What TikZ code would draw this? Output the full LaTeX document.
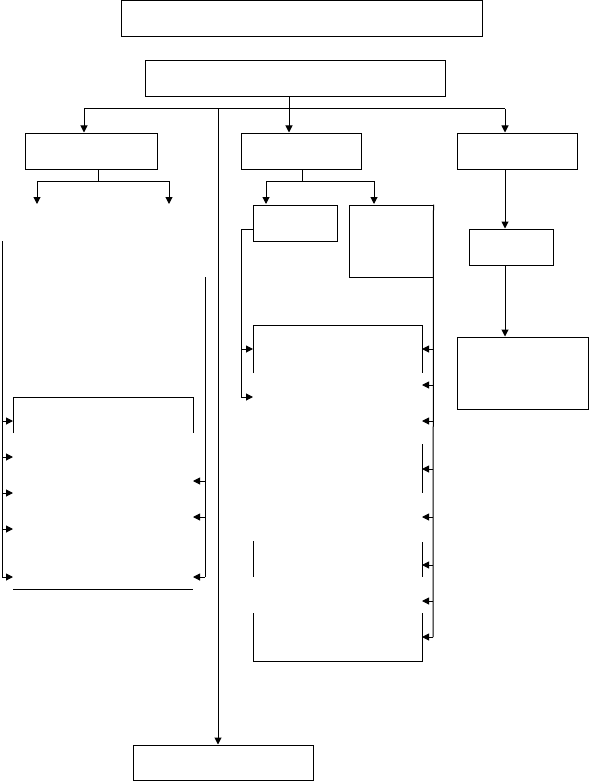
\documentclass[tikz,border=0pt]{standalone}
\usetikzlibrary{arrows.meta, positioning, calc}

\begin{document}
\begin{tikzpicture}[
  x=1pt, y=-1pt,
  box/.style 2 args={draw, line width=1pt, minimum width=#1, minimum height=#2, inner sep=0pt},
  line/.style={line width=1pt},
  arrow/.style={line width=1pt, -{Triangle[length=7pt, width=7pt]}}
]
  \useasboundingbox (0,0) rectangle (589,781);

  \node[box={361pt}{36pt}] (top) at (301.5,19) {};
  \node[box={300pt}{36pt}] (main) at (295,79) {};
  \node[box={132pt}{36pt}] (left) at (91,151) {};
  \node[box={120pt}{36pt}] (mid) at (301,151) {};
  \node[box={120pt}{36pt}] (right) at (517,151) {};
  \node[box={84pt}{36pt}] (midA) at (295,223) {};
  \node[box={84pt}{72pt}] (midB) at (391,241) {};
  \node[box={84pt}{36pt}] (rightA) at (511,247) {};
  \node[box={131pt}{72pt}] (rightB) at (522.5,373) {};
  \node[box={180pt}{35pt}] (bottom) at (223,762.5) {};

  \coordinate (busL) at (84,109);
  \coordinate (bus) at (289,109);
  \coordinate (busM) at (218,109);
  \coordinate (busR) at (505,109);
  \coordinate (leftL) at (37,204);
  \coordinate (leftR) at (169,204);

  \draw[line] (bus |- main.south) -- (bus);
  \draw[line] (busL) -- (busR);
  \draw[arrow] (busL) -- (busL |- left.north);
  \draw[arrow] (bus) -- (bus |- mid.north);
  \draw[arrow] (busR) -- (busR |- right.north);
  \draw[arrow] (busM) -- (busM |- bottom.north);

  \draw[line] (98,169) -- (98,181);
  \draw[arrow] (98,181) -| (leftL);
  \draw[arrow] (98,181) -| (leftR);
  \draw[line] (302,169) -- (302,181);
  \draw[arrow] (302,181) -| (266,204);
  \draw[arrow] (302,181) -| (374,204);
  \draw[arrow] (busR |- right.south) -- (busR |- rightA.north);
  \draw[arrow] (busR |- rightA.south) -- (busR |- rightB.north);

  % left frame
  \draw[line] (13,433) -- (13,397) -- (193,397) -- (193,433);
  \draw[line] (13,589) -- (193,589);
  \draw[line] (2,241) -- (2,577);
  \draw[line] (205,277) -- (205,577);
  \foreach \y in {421,457,493,529,577}
    \draw[arrow] (2,\y) -- (13,\y);
  \foreach \y in {481,517,577}
    \draw[arrow] (205,\y) -- (193,\y);

  % middle frame
  \draw[line] (253,373) -- (253,325) -- (422,325) -- (422,373);
  \draw[line] (253,541) -- (253,577);
  \draw[line] (253,613) -- (253,661) -- (422,661) -- (422,613);
  \draw[line] (422,444) -- (422,493);
  \draw[line] (422,542) -- (422,577);
  \draw[line] (midA.west |- 0,229) -- (241,229) -- (241,397);
  \draw[line] (midB.north east) -- (433,637);
  \foreach \y in {349,397}
    \draw[arrow] (241,\y) -- (253,\y);
  \foreach \y in {349,385,421,469,517,565,601,637}
    \draw[arrow] (433,\y) -- (422,\y);
\end{tikzpicture}
\end{document}
